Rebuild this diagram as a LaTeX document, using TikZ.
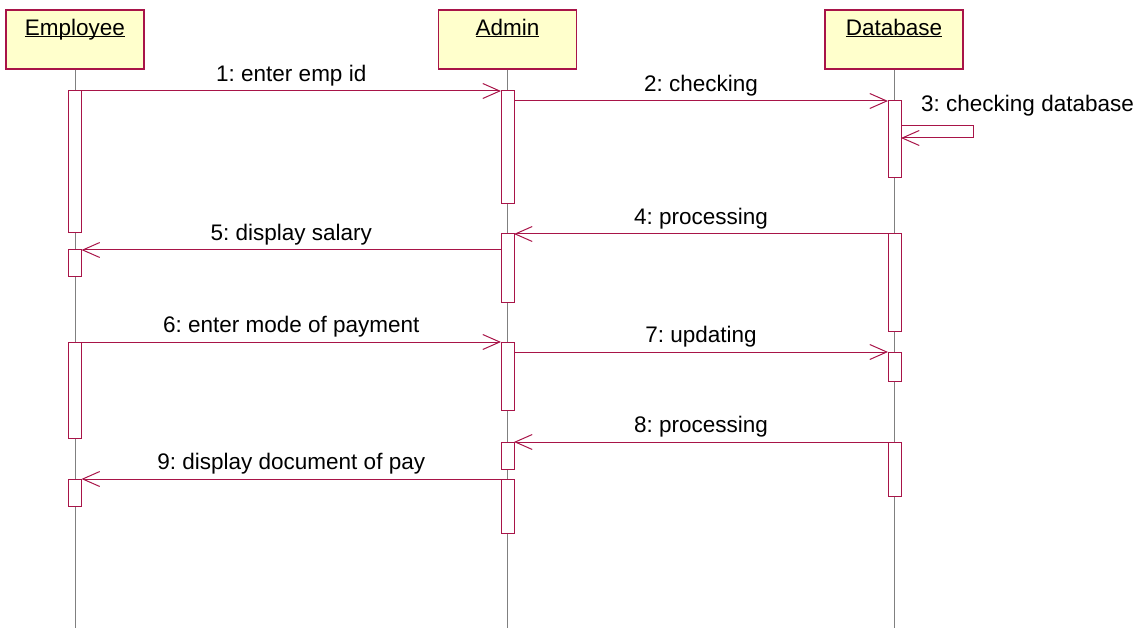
\documentclass[tikz,border=0pt]{standalone}
\usepackage{fontspec}
\setmainfont{Liberation Sans}
\usepackage{xcolor}
\usepackage{tikz}
\usetikzlibrary{arrows.meta, positioning, calc}
\frenchspacing
\definecolor{umlred}{RGB}{168,20,72}
\definecolor{umlfill}{RGB}{255,255,204}
\newcommand{\objname}[1]{\underline{\vphantom{E}\smash{#1}}}
\tikzset{
  head/.style = {rectangle, draw=umlred, fill=umlfill, line width=1.2pt,
                 minimum width=138pt, minimum height=59pt, inner sep=0pt},
  headtxt/.style = {anchor=north, inner sep=0pt, yshift=-10pt},
  bar/.style  = {rectangle, draw=umlred, fill=white, line width=1pt,
                 minimum width=13pt, anchor=north, inner sep=0pt, outer sep=0pt},
  msg/.style  = {-{Straight Barb[length=17pt, width=15pt, line width=1pt]},
                 draw=umlred, line width=1pt},
  life/.style = {draw=gray, line width=1pt},
}

\begin{document}
\begin{tikzpicture}[x=1pt, y=-1pt, font=\fontsize{22.5}{26}\selectfont,
  lbl/.style={above=4pt, inner sep=0pt, midway}]
  \useasboundingbox (0,0) rectangle (1145,628);
  % object heads
  \node[head] (emp)  at (75,39.5)  {};
  \node[head] (adm)  at (507.5,39.5) {};
  \node[head] (db)   at (894,39.5) {};
  \node[headtxt] at (emp.north) {\objname{Employee}};
  \node[headtxt] at (adm.north) {\objname{Admin}};
  \node[headtxt] at (db.north)  {\objname{Database}};
  % lifelines
  \draw[life] (emp.south) -- (emp.south |- 0,628);
  \draw[life] (adm.south) -- (adm.south |- 0,628);
  \draw[life] (db.south)  -- (db.south |- 0,628);
  % activation bars
  \node[bar, minimum height=142pt] (eA) at (75,91)  {};
  \node[bar, minimum height=26pt]  (eB) at (75,250) {};
  \node[bar, minimum height=96pt]  (eC) at (75,342) {};
  \node[bar, minimum height=27pt]  (eD) at (75,479) {};
  \node[bar, minimum height=113pt] (aA) at (507.5,91)  {};
  \node[bar, minimum height=68pt]  (aB) at (507.5,234) {};
  \node[bar, minimum height=68pt]  (aC) at (507.5,342) {};
  \node[bar, minimum height=27pt]  (aD) at (507.5,442) {};
  \node[bar, minimum height=54pt]  (aE) at (507.5,479) {};
  \node[bar, minimum height=77pt]  (dA) at (894.5,101) {};
  \node[bar, minimum height=97pt]  (dB) at (894.5,234) {};
  \node[bar, minimum height=29pt]  (dC) at (894.5,352) {};
  \node[bar, minimum height=54pt]  (dD) at (894.5,442) {};
  % messages
  \draw[msg] (eA.north east) -- node[lbl]{1: enter emp id} (aA.north west);
  \draw[msg] (aA.east |- dA.north) -- node[lbl]{2: checking} (dA.north west);
  \draw[msg] ([yshift=-25pt]dA.north east) -- ++(72,0) -- ++(0,12)
             -- ([yshift=-37pt]dA.north east);
  \node[anchor=west, inner sep=0pt] (m3) at (921,106) {3: checking database};
  \draw[msg] (dB.north west) -- node[lbl]{4: processing} (aB.north east);
  \draw[msg] (aB.west |- eB.north) -- node[lbl]{5: display salary} (eB.north east);
  \draw[msg] (eC.north east) -- node[lbl]{6: enter mode of payment} (aC.north west);
  \draw[msg] (aC.east |- dC.north) -- node[lbl]{7: updating} (dC.north west);
  \draw[msg] (dD.north west) -- node[lbl]{8: processing} (aD.north east);
  \draw[msg] (aE.north west) -- node[lbl]{9: display document of pay} (eD.north east);
\end{tikzpicture}
\end{document}
